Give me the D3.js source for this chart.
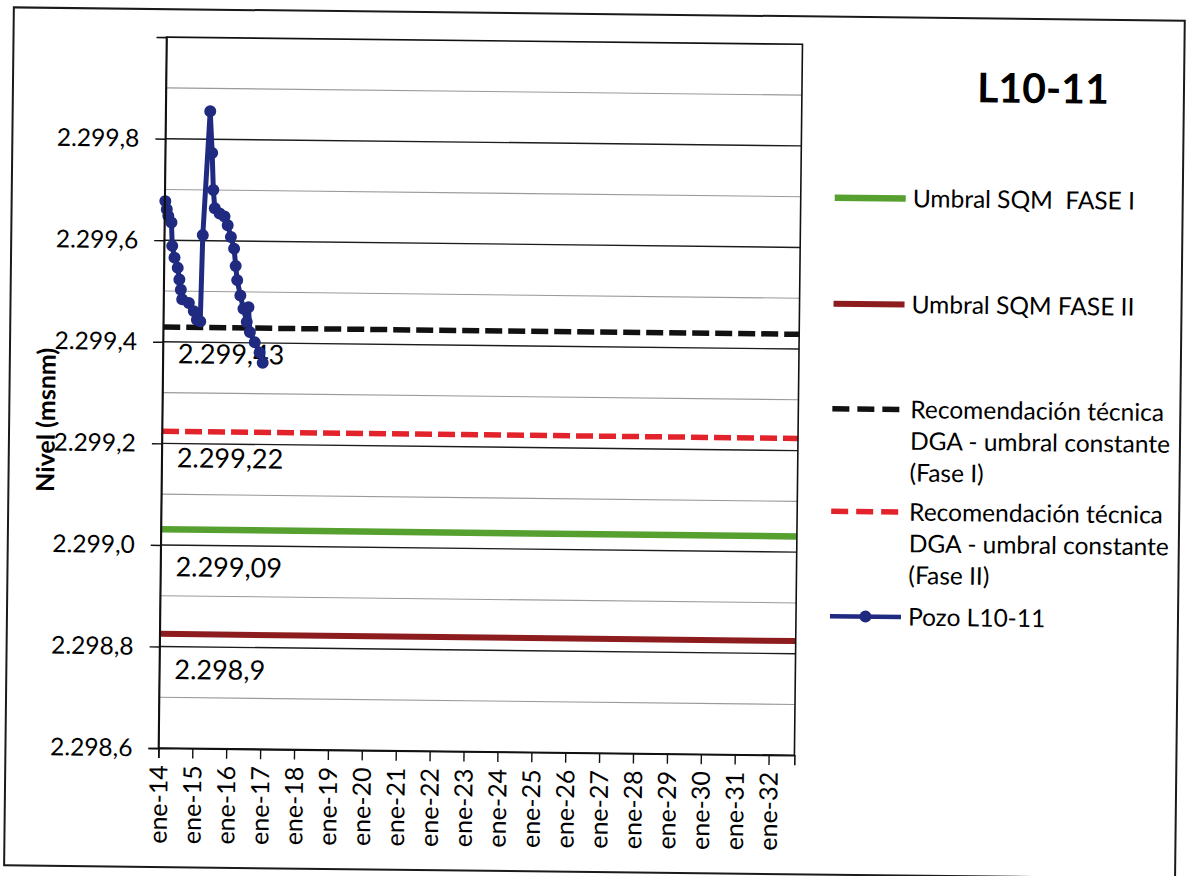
<!DOCTYPE html>
<html>
<head>
<meta charset="utf-8">
<script src="https://cdn.jsdelivr.net/npm/d3@7"></script>
<style>
  body { margin: 0; background: #fff; }
  svg { display: block; }
  text { font-family: Lato, "Open Sans", sans-serif; fill: #000; white-space: pre; }
</style>
</head>
<body>
<svg id="chart" width="1190" height="876"></svg>
<script>
// ---------------- DATA ----------------
const chartTitle = "L10-11";
const yAxisTitle = "Nivel (msnm)";

const pozoName = "Pozo L10-11";
const pozoDates = [
  "2014-01-08","2014-01-25","2014-02-11","2014-03-18","2014-03-29","2014-04-24",
  "2014-05-30","2014-06-18","2014-07-05","2014-07-21","2014-10-01","2014-11-24",
  "2014-12-29","2015-02-03","2015-02-20","2015-04-26","2015-05-22","2015-06-08",
  "2015-06-26","2015-08-18","2015-10-10","2015-11-14","2015-12-20","2016-01-25",
  "2016-02-13","2016-03-02","2016-04-07","2016-05-12","2016-06-18","2016-07-05",
  "2016-07-23","2016-09-15","2016-11-07","2016-12-12"
];
const pozoValues = [
  2299.677, 2299.661, 2299.648, 2299.635, 2299.589, 2299.566,
  2299.546, 2299.523, 2299.503, 2299.484, 2299.477, 2299.461,
  2299.444, 2299.441, 2299.611, 2299.855, 2299.773, 2299.700,
  2299.664, 2299.654, 2299.648, 2299.631, 2299.608, 2299.585,
  2299.551, 2299.523, 2299.493, 2299.467, 2299.441, 2299.470,
  2299.421, 2299.401, 2299.381, 2299.361
];

const thresholdNames = [
  "Umbral SQM  FASE I",
  "Umbral SQM FASE II",
  "Recomendación técnica DGA - umbral constante (Fase I)",
  "Recomendación técnica DGA - umbral constante (Fase II)"
];
const thresholdValues = [2299.031, 2298.825, 2299.429, 2299.224];
const thresholdLabels = ["2.299,09", "2.298,9", "2.299,43", "2.299,22"];

const legendLines = [
  ["Umbral SQM  FASE I"],
  ["Umbral SQM FASE II"],
  ["Recomendación técnica", "DGA - umbral constante", "(Fase I)"],
  ["Recomendación técnica", "DGA - umbral constante", "(Fase II)"],
  ["Pozo L10-11"]
];

const yTicks = [2298.6, 2298.8, 2299.0, 2299.2, 2299.4, 2299.6, 2299.8];
const yGrid = [2298.7, 2298.8, 2298.9, 2299.0, 2299.1, 2299.2, 2299.3, 2299.4, 2299.5, 2299.6, 2299.7, 2299.8, 2299.9];
const xTickLabels = ["ene-14","ene-15","ene-16","ene-17","ene-18","ene-19","ene-20","ene-21","ene-22",
  "ene-23","ene-24","ene-25","ene-26","ene-27","ene-28","ene-29","ene-30","ene-31","ene-32"];
const xDomain = ["2014-01-01", "2032-10-05"];
const yDomain = [2298.6, 2300.0];

// ---------------- STYLE / LAYOUT ----------------
const colors = ["#56a02f", "#8c1c1e", "#111111", "#e3232b"];
const widths = [6.5, 6, 5.5, 5.5];
const dashes = [null, null, "17,6", "17,6"];
const pozoColor = "#1f2a80";

const W = 1190, H = 876;
const plot = { left: 162, right: 798, top: 42, bottom: 753 };
const labelOffsets = [47, 45, 36, 36];

const parse = d3.timeParse("%Y-%m-%d");
const fmtNum = d3.formatLocale({ decimal: ",", thousands: ".", grouping: [3], currency: ["$", ""] }).format(",.1f");

const svg = d3.select("#chart");
svg.append("rect").attr("width", W).attr("height", H).attr("fill", "#fff");

// whole page slightly rotated like the scan
const root = svg.append("g").attr("transform", "rotate(0.65, 595, 438)");

// outer border
root.append("rect").attr("x", 9).attr("y", 14).attr("width", 1171).attr("height", 858)
  .attr("fill", "none").attr("stroke", "#1a1a1a").attr("stroke-width", 2);

const x = d3.scaleTime().domain(xDomain.map(parse)).range([plot.left, plot.right]);
const y = d3.scaleLinear().domain(yDomain).range([plot.bottom, plot.top]);

// gridlines
const grid = root.append("g");
grid.selectAll("line").data(yGrid).join("line")
  .attr("x1", plot.left).attr("x2", plot.right)
  .attr("y1", d => y(d)).attr("y2", d => y(d))
  .attr("stroke", d => (Math.round(d * 10) % 2 === 0) ? "#1c1c1c" : "#9a9a9a")
  .attr("stroke-width", d => (Math.round(d * 10) % 2 === 0) ? 1.4 : 1.1);

// threshold lines
const xs = x.domain();
thresholdValues.forEach((v, i) => {
  root.append("line")
    .attr("x1", x(xs[0])).attr("x2", x(xs[1]))
    .attr("y1", y(v)).attr("y2", y(v))
    .attr("stroke", colors[i]).attr("stroke-width", widths[i])
    .attr("stroke-dasharray", dashes[i]);
});

// threshold data labels
thresholdValues.forEach((v, i) => {
  root.append("text")
    .attr("x", plot.left + 15).attr("y", y(v) + labelOffsets[i])
    .attr("font-size", 27).text(thresholdLabels[i]);
});

// pozo series
const pozo = pozoDates.map((d, i) => ({ date: parse(d), value: pozoValues[i] }));
const line = d3.line().x(d => x(d.date)).y(d => y(d.value));
root.append("path").datum(pozo).attr("d", line)
  .attr("fill", "none").attr("stroke", pozoColor).attr("stroke-width", 5).attr("stroke-linejoin", "round");
root.append("g").selectAll("circle").data(pozo).join("circle")
  .attr("cx", d => x(d.date)).attr("cy", d => y(d.value)).attr("r", 6).attr("fill", pozoColor);

// plot border
root.append("rect").attr("x", plot.left).attr("y", plot.top)
  .attr("width", plot.right - plot.left).attr("height", plot.bottom - plot.top)
  .attr("fill", "none").attr("stroke", "#111").attr("stroke-width", 1.6);

// y axis
const yAxis = root.append("g").attr("transform", `translate(${plot.left},0)`)
  .call(d3.axisLeft(y).tickValues(yTicks).tickSize(10).tickPadding(16).tickFormat(fmtNum));
yAxis.select(".domain").attr("stroke", "#111").attr("stroke-width", 1.6);
yAxis.selectAll(".tick line").attr("stroke", "#111").attr("stroke-width", 1.4);
yAxis.selectAll(".tick text").attr("font-size", 24.5).attr("fill", "#000").attr("font-family", "Lato");

// x axis
const years = d3.timeYear.range(parse("2014-01-01"), parse("2032-02-01"));
const xAxis = root.append("g").attr("transform", `translate(0,${plot.bottom})`)
  .call(d3.axisBottom(x).tickValues(years).tickSize(10).tickFormat((d, i) => xTickLabels[i]));
xAxis.select(".domain").attr("stroke", "#111").attr("stroke-width", 1.6);
xAxis.selectAll(".tick line").attr("stroke", "#111").attr("stroke-width", 1.4);
xAxis.selectAll(".tick text")
  .attr("font-size", 25).attr("fill", "#000").attr("font-family", "Lato")
  .attr("transform", "rotate(-90)").attr("text-anchor", "end")
  .attr("x", -17).attr("y", 0).attr("dy", "0.35em");

// y axis title
root.append("text")
  .attr("transform", "translate(46,426) rotate(-90)")
  .attr("text-anchor", "middle").attr("dy", "0.35em")
  .attr("font-size", 25).attr("font-weight", "bold").text(yAxisTitle);

// chart title
root.append("text").attr("x", 1039).attr("y", 98).attr("text-anchor", "middle")
  .attr("font-size", 41).attr("font-weight", "bold").text(chartTitle);

// legend
const legendY = [195, 301, 406, 508.5, 613.5];
const lx0 = 832, lx1 = 903, ltx = 910, lineH = 31.7;
const legendStyles = [0, 1, 2, 3].map(i => ({ color: colors[i], width: widths[i], dash: dashes[i] ? "17,8" : null }));
legendStyles.push({ color: pozoColor, width: 4.5, dash: null, marker: true });
const lg = root.append("g");
legendLines.forEach((lines, i) => {
  const st = legendStyles[i];
  const yy = legendY[i];
  lg.append("line").attr("x1", lx0).attr("x2", lx1).attr("y1", yy).attr("y2", yy)
    .attr("stroke", st.color).attr("stroke-width", st.width).attr("stroke-dasharray", st.dash);
  if (st.marker) lg.append("circle").attr("cx", (lx0 + lx1) / 2).attr("cy", yy).attr("r", 6).attr("fill", st.color);
  lines.forEach((t, k) => {
    lg.append("text").attr("x", ltx).attr("y", yy + k * lineH).attr("dy", "0.35em")
      .attr("font-size", 24.5).text(t);
  });
});
</script>
</body>
</html>
